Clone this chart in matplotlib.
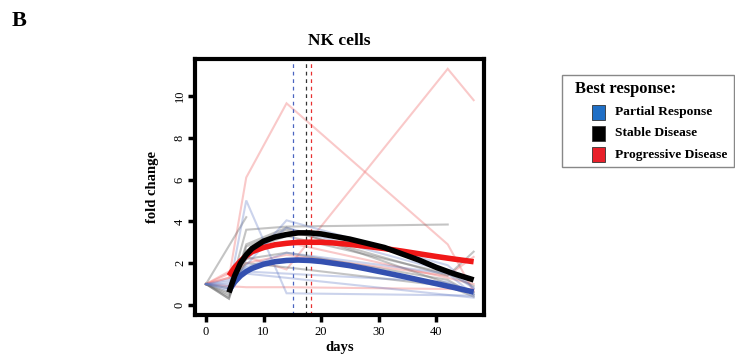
import matplotlib
matplotlib.use("Agg")
import matplotlib.pyplot as plt
from matplotlib.patches import Rectangle

plt.rcParams['font.family'] = ['Liberation Serif', 'DejaVu Serif']

# ---------------- data ----------------
title = "NK cells"
xlabel = "days"
ylabel = "fold change"
panel_label = "B"
legend_title = "Best response:"
groups = ["Partial Response", "Stable Disease", "Progressive Disease"]
legend_colors = ["#1f6fc6", "#000000", "#e8202a"]

# individual patient trajectories (days, fold change)
pr_lines = [
    ([0, 4, 7, 14, 46.5], [1, 0.7, 5.0, 0.56, 0.45]),
    ([0, 4, 7, 14, 42, 46.5], [1, 1.0, 1.9, 4.05, 1.9, 0.8]),
    ([0, 4, 7, 14, 42, 46.5], [1, 0.9, 1.6, 1.5, 1.1, 0.6]),
    ([0, 4, 7, 14, 42, 46.5], [1, 1.1, 1.8, 2.5, 1.5, 0.5]),
    ([0, 4, 7, 14, 46.5], [1, 0.8, 1.5, 1.3, 0.35]),
    ([0, 4, 7, 14, 42, 46.5], [1, 1.2, 2.2, 3.7, 1.6, 0.8]),
]
sd_lines = [
    ([0, 4, 7, 14, 42], [1, 0.6, 3.6, 3.75, 3.85]),
    ([0, 7], [1, 4.2]),
    ([0, 4, 7, 14, 42, 46.5], [1, 0.3, 2.8, 3.6, 1.4, 2.55]),
    ([0, 4, 7, 14, 42, 46.5], [1, 0.4, 2.6, 3.3, 1.5, 0.9]),
    ([0, 4, 7, 14, 42, 46.5], [1, 0.5, 2.2, 2.5, 1.2, 0.5]),
    ([0, 4, 7, 14, 42, 46.5], [1, 0.8, 2.0, 1.8, 0.9, 0.4]),
    ([0, 4, 7, 14, 46.5], [1, 0.3, 2.9, 3.7, 0.6]),
]
pd_lines = [
    ([0, 4, 7, 14, 42, 46.5], [1, 1.3, 6.1, 9.65, 2.9, 0.65]),
    ([0, 4, 7, 14, 42, 46.5], [1, 1.5, 2.3, 1.7, 11.3, 9.8]),
    ([0, 4, 7, 14, 46.5], [1, 0.9, 0.85, 0.85, 0.75]),
    ([0, 4, 7, 14, 42, 46.5], [1, 1.6, 2.4, 3.0, 1.3, 1.0]),
    ([0, 4, 7, 14, 42, 46.5], [1, 1.3, 2.0, 2.4, 1.4, 2.3]),
]

# smoothed group curves
fit_days = [4, 5, 6, 7, 8, 10, 12, 14, 16, 18, 20, 22, 25, 28, 31, 34, 37, 40, 43, 46.5]
pr_fit = [0.7, 1.1, 1.4, 1.6, 1.75, 1.95, 2.07, 2.13, 2.15, 2.13, 2.08, 2.0, 1.88, 1.72,
          1.55, 1.38, 1.2, 1.02, 0.84, 0.62]
sd_fit = [0.6, 1.4, 2.0, 2.4, 2.7, 3.05, 3.25, 3.37, 3.45, 3.45, 3.4, 3.3, 3.15, 2.95,
          2.75, 2.45, 2.15, 1.8, 1.5, 1.2]
pd_fit = [1.4, 1.8, 2.1, 2.35, 2.55, 2.75, 2.88, 2.95, 3.0, 3.0, 3.0, 2.97, 2.9, 2.8,
          2.7, 2.58, 2.45, 2.32, 2.2, 2.07]

# peak-time markers (dashed verticals)
peak_days = [15.1, 17.3, 18.3]

xticks = [0, 10, 20, 30, 40]
yticks = [0, 2, 4, 6, 8, 10]

# ---------------- figure ----------------
W, H = 735, 354
fig = plt.figure(figsize=(W / 100, H / 100), dpi=100)
ax = fig.add_axes([195 / W, 1 - 315 / H, (484 - 195) / W, (315 - 59) / H])

thin_cols = ["#6078c4", "#666666", "#f27878"]
thick_cols = ["#3450b0", "#000000", "#f01818"]
dash_cols = ["#4a64c0", "#333333", "#e83030"]

for lines, c, a in zip([pd_lines, sd_lines, pr_lines], [thin_cols[2], thin_cols[1], thin_cols[0]],
                       [0.4, 0.38, 0.32]):
    for xs, ys in lines:
        ax.plot(xs, ys, color=c, alpha=a, lw=1.5, solid_joinstyle='miter')

for d, c in zip(peak_days, dash_cols):
    ax.axvline(d, color=c, lw=0.9, ls=(0, (3, 3)))

for fit, c in zip([pd_fit, pr_fit, sd_fit], [thick_cols[2], thick_cols[0], thick_cols[1]]):
    ax.plot(fit_days, fit, color=c, lw=4, solid_capstyle='butt')

ax.set_xlim(-1.9, 48.3)
ax.set_ylim(-0.48, 11.77)
ax.set_xticks(xticks)
ax.set_yticks(yticks)
ax.tick_params(direction='out', length=5, width=2.5, labelsize=9)
ax.tick_params(axis='x', pad=3)
ax.tick_params(axis='y', pad=1.5)
for lab in ax.get_yticklabels():
    lab.set_rotation(90)
    lab.set_va('center')
for s in ax.spines.values():
    s.set_linewidth(3)

ax.set_title(title, fontsize=12.5, fontweight='bold', pad=10)
ax.set_xlabel(xlabel, fontsize=10.5, fontweight='bold', labelpad=2)
ax.set_ylabel(ylabel, fontsize=10.5, fontweight='bold', labelpad=11)

fig.text(12 / W, 1 - 21 / H, panel_label, fontsize=16, fontweight='bold', va='center', ha='left')

# legend box
fig.add_artist(Rectangle((562 / W, 1 - 167 / H), (734 - 562) / W, (167 - 75) / H,
                         transform=fig.transFigure, fill=False, edgecolor='#888888', lw=1))
fig.text(575 / W, 1 - 89 / H, legend_title, fontsize=12, fontweight='bold', va='center')
for i, (g, c) in enumerate(zip(groups, legend_colors)):
    yc = 112 + i * 21.3
    fig.add_artist(Rectangle((592 / W, 1 - (yc + 7.5) / H), 13 / W, 15 / H, transform=fig.transFigure,
                             facecolor=c, edgecolor='#333333', lw=0.6))
    fig.text(615 / W, 1 - yc / H, g, fontsize=9.7, fontweight='bold', va='center')

fig.savefig("out.png", dpi=100)
